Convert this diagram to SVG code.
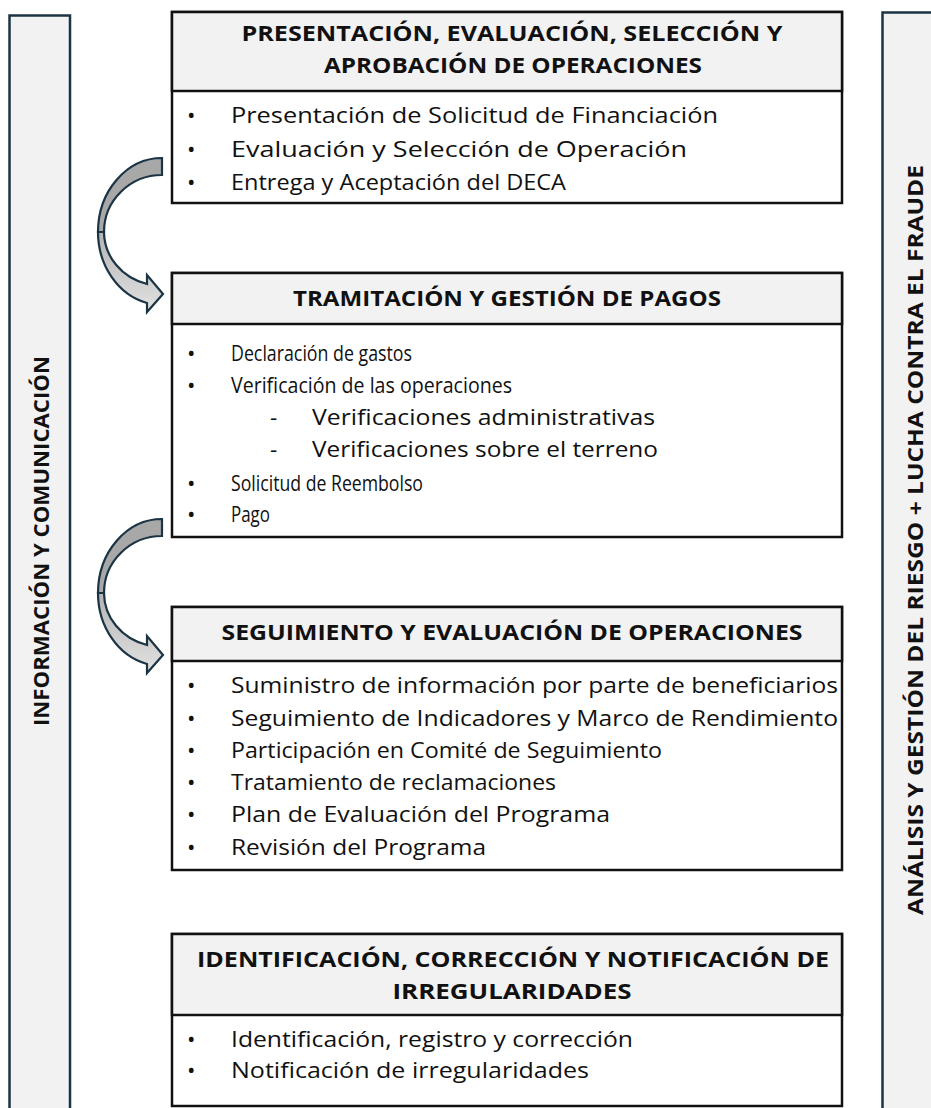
<svg xmlns="http://www.w3.org/2000/svg" width="931" height="1108" viewBox="0 0 931 1108">
<defs>
<style>
.side{fill:#f2f2f2;stroke:#1b3444;stroke-width:2.5}
.box{fill:#ffffff;stroke:#111;stroke-width:2.5}
.hdr{fill:#f2f2f2;stroke:#111;stroke-width:2.5}
.t{font-family:"Open Sans","Liberation Sans",sans-serif;font-weight:700;font-size:22px;fill:#111;text-anchor:middle}
.b{font-family:"Open Sans","Liberation Sans",sans-serif;font-size:22.5px;fill:#111}
.st{font-family:"Open Sans","Liberation Sans",sans-serif;font-weight:700;font-size:22px;fill:#111;text-anchor:middle}
.arrB{fill:#a8a8a8;stroke:#1b3444;stroke-width:2.2;stroke-linejoin:miter}
.arrF{fill:url(#g);stroke:#1b3444;stroke-width:2.2;stroke-linejoin:miter}
</style>
<linearGradient id="g" x1="0" y1="0" x2="0" y2="1">
<stop offset="0" stop-color="#b4b4b4"/>
<stop offset="1" stop-color="#e2e2e2"/>
</linearGradient>
</defs>

<g id="sidebar-left">
<rect class="side" x="9.5" y="15.5" width="60.5" height="1110"/>
<text class="st" transform="translate(49,541) rotate(-90)" textLength="370" lengthAdjust="spacingAndGlyphs">INFORMACIÓN Y COMUNICACIÓN</text>
</g>
<g id="sidebar-right">
<rect class="side" x="882.5" y="12.5" width="70" height="1110"/>
<text class="st" transform="translate(923,540) rotate(-90)" textLength="750" lengthAdjust="spacingAndGlyphs">ANÁLISIS Y GESTIÓN DEL RIESGO + LUCHA CONTRA EL FRAUDE</text>
</g>

<g id="box1">
<rect class="box" x="172" y="12" width="670" height="191"/>
<rect class="hdr" x="172" y="12" width="670" height="79"/>
<text class="t" x="512" y="41" textLength="541" lengthAdjust="spacingAndGlyphs">PRESENTACIÓN, EVALUACIÓN, SELECCIÓN Y</text>
<text class="t" x="513" y="73" textLength="378" lengthAdjust="spacingAndGlyphs">APROBACIÓN DE OPERACIONES</text>
<text class="b" x="187" y="123">•</text><text class="b" x="231" y="123" textLength="487" lengthAdjust="spacingAndGlyphs">Presentación de Solicitud de Financiación</text>
<text class="b" x="187" y="157">•</text><text class="b" x="231" y="157" textLength="456" lengthAdjust="spacingAndGlyphs">Evaluación y Selección de Operación</text>
<text class="b" x="187" y="190">•</text><text class="b" x="231" y="190" textLength="335" lengthAdjust="spacingAndGlyphs">Entrega y Aceptación del DECA</text>
</g>

<g id="box2">
<rect class="box" x="172" y="273" width="670" height="264"/>
<rect class="hdr" x="172" y="273" width="670" height="51"/>
<text class="t" x="507" y="306" textLength="428" lengthAdjust="spacingAndGlyphs">TRAMITACIÓN Y GESTIÓN DE PAGOS</text>
<text class="b" x="187" y="361">•</text><text class="b" x="231" y="361" textLength="181" lengthAdjust="spacingAndGlyphs">Declaración de gastos</text>
<text class="b" x="187" y="393">•</text><text class="b" x="231" y="393" textLength="281" lengthAdjust="spacingAndGlyphs">Verificación de las operaciones</text>
<text class="b" x="270" y="425">-</text><text class="b" x="312" y="425" textLength="343" lengthAdjust="spacingAndGlyphs">Verificaciones administrativas</text>
<text class="b" x="270" y="457">-</text><text class="b" x="312" y="457" textLength="346" lengthAdjust="spacingAndGlyphs">Verificaciones sobre el terreno</text>
<text class="b" x="187" y="491">•</text><text class="b" x="231" y="491" textLength="192" lengthAdjust="spacingAndGlyphs">Solicitud de Reembolso</text>
<text class="b" x="187" y="522">•</text><text class="b" x="231" y="522" textLength="39" lengthAdjust="spacingAndGlyphs">Pago</text>
</g>

<g id="box3">
<rect class="box" x="172" y="607" width="670" height="263"/>
<rect class="hdr" x="172" y="607" width="670" height="54"/>
<text class="t" x="512" y="640" textLength="581" lengthAdjust="spacingAndGlyphs">SEGUIMIENTO Y EVALUACIÓN DE OPERACIONES</text>
<text class="b" x="187" y="693">•</text><text class="b" x="231" y="693" textLength="607" lengthAdjust="spacingAndGlyphs">Suministro de información por parte de beneficiarios</text>
<text class="b" x="187" y="726">•</text><text class="b" x="231" y="726" textLength="607" lengthAdjust="spacingAndGlyphs">Seguimiento de Indicadores y Marco de Rendimiento</text>
<text class="b" x="187" y="758">•</text><text class="b" x="231" y="758" textLength="431" lengthAdjust="spacingAndGlyphs">Participación en Comité de Seguimiento</text>
<text class="b" x="187" y="790">•</text><text class="b" x="231" y="790" textLength="325" lengthAdjust="spacingAndGlyphs">Tratamiento de reclamaciones</text>
<text class="b" x="187" y="822">•</text><text class="b" x="231" y="822" textLength="379" lengthAdjust="spacingAndGlyphs">Plan de Evaluación del Programa</text>
<text class="b" x="187" y="855">•</text><text class="b" x="231" y="855" textLength="255" lengthAdjust="spacingAndGlyphs">Revisión del Programa</text>
</g>

<g id="box4">
<rect class="box" x="172" y="934" width="670" height="172"/>
<rect class="hdr" x="172" y="934" width="670" height="81"/>
<text class="t" x="513" y="967" textLength="632" lengthAdjust="spacingAndGlyphs">IDENTIFICACIÓN, CORRECCIÓN Y NOTIFICACIÓN DE</text>
<text class="t" x="512" y="999" textLength="239" lengthAdjust="spacingAndGlyphs">IRREGULARIDADES</text>
<text class="b" x="187" y="1047">•</text><text class="b" x="231" y="1047" textLength="402" lengthAdjust="spacingAndGlyphs">Identificación, registro y corrección</text>
<text class="b" x="187" y="1078">•</text><text class="b" x="231" y="1078" textLength="358" lengthAdjust="spacingAndGlyphs">Notificación de irregularidades</text>
</g>

<g id="connectors">
<g id="arrow1">
<path class="arrB" d="M162,158 A64,74 0 0 0 98,232 L104,232 A58,57 0 0 1 162,175 Z"/>
<path class="arrF" d="M98,232 A64,73 0 0 0 147,303 L147,312 L163,294 L147,275 L147,284 A58,54 0 0 1 104,232 Z"/>
</g>
<g id="arrow2" transform="translate(0,361)">
<path class="arrB" d="M162,158 A64,74 0 0 0 98,232 L104,232 A58,57 0 0 1 162,175 Z"/>
<path class="arrF" d="M98,232 A64,73 0 0 0 147,303 L147,312 L163,294 L147,275 L147,284 A58,54 0 0 1 104,232 Z"/>
</g>
</g>
</svg>
